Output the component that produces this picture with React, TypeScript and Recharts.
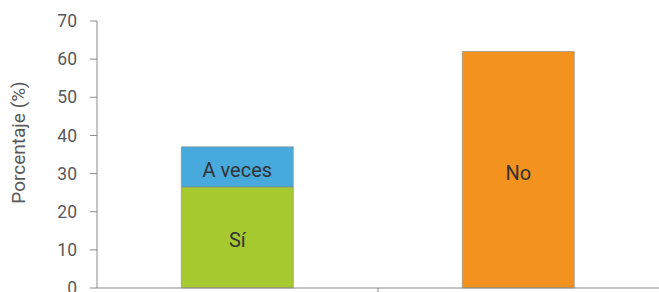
import { Bar, BarChart, LabelList, XAxis, YAxis } from 'recharts';

const categories = ['Sí / A veces', 'No'];
const siValues = [26.5, 0];
const aVecesValues = [10.5, 0];
const noValues = [0, 62];
const yTicks = [0, 10, 20, 30, 40, 50, 60, 70];

const COLORS = { si: '#a5c92f', aVeces: '#47a9dc', no: '#f3921f' };
const AXIS = '#8a8a8a';
const FONT = 'Roboto, "Noto Sans", sans-serif';
const AXIS_W = 97;

const data = categories.map((name, i) => ({
  name,
  si: siValues[i],
  aVeces: aVecesValues[i],
  no: noValues[i],
}));

const makeLabel = (text: string) => (props: any) => {
  const { x, y, width, height, value } = props;
  if (!value) return null;
  return (
    <text
      x={x + width / 2}
      y={y + height / 2 + 3}
      textAnchor="middle"
      dominantBaseline="central"
      fill="#333"
      fontSize={20}
      fontFamily={FONT}
    >
      {text}
    </text>
  );
};

// tick mark sits on the boundary between categories, not at the band centre
const BoundaryTick = (props: any) => {
  const { x, y, index, visibleTicksCount } = props;
  if (index >= visibleTicksCount - 1) return null;
  const off = (659 - AXIS_W) / categories.length / 2;
  return <line x1={x + off} x2={x + off} y1={y - 8} y2={y - 2} stroke={AXIS} />;
};

const YLabel = (props: any) => {
  const { viewBox } = props;
  const cx = viewBox.x + 18;
  const cy = viewBox.y + viewBox.height / 2 - 12;
  return (
    <text
      x={cx}
      y={cy}
      transform={`rotate(-90, ${cx}, ${cy})`}
      textAnchor="middle"
      dominantBaseline="central"
      fill="#595959"
      fontSize={19}
      fontFamily={FONT}
    >
      Porcentaje (%)
    </text>
  );
};

export default function App() {
  return (
    <div style={{ position: 'absolute', left: 0, top: 0, width: 659, height: 292, overflow: 'hidden', background: '#fff' }}>
      <BarChart
        width={659}
        height={330}
        data={data}
        margin={{ top: 21, right: 0, left: 0, bottom: 12 }}
        barCategoryGap="30%"
      >
        <XAxis
          dataKey="name"
          height={30}
          axisLine={{ stroke: AXIS }}
          tickLine={false}
          tick={<BoundaryTick />}
          interval={0}
        />
        <YAxis
          width={AXIS_W}
          domain={[0, 70]}
          ticks={yTicks}
          axisLine={{ stroke: AXIS }}
          tickLine={{ stroke: AXIS }}
          tickSize={7}
          tickMargin={13}
          tick={{ fill: '#595959', fontSize: 17.5, fontFamily: FONT }}
          label={<YLabel />}
        />
        <Bar dataKey="si" stackId="a" fill={COLORS.si} stroke="#8a8a8a" strokeWidth={0.6} isAnimationActive={false}>
          <LabelList dataKey="si" content={makeLabel('Sí')} />
        </Bar>
        <Bar dataKey="aVeces" stackId="a" fill={COLORS.aVeces} stroke="#8a8a8a" strokeWidth={0.6} isAnimationActive={false}>
          <LabelList dataKey="aVeces" content={makeLabel('A veces')} />
        </Bar>
        <Bar dataKey="no" stackId="a" fill={COLORS.no} stroke="#8a8a8a" strokeWidth={0.6} isAnimationActive={false}>
          <LabelList dataKey="no" content={makeLabel('No')} />
        </Bar>
      </BarChart>
    </div>
  );
}
